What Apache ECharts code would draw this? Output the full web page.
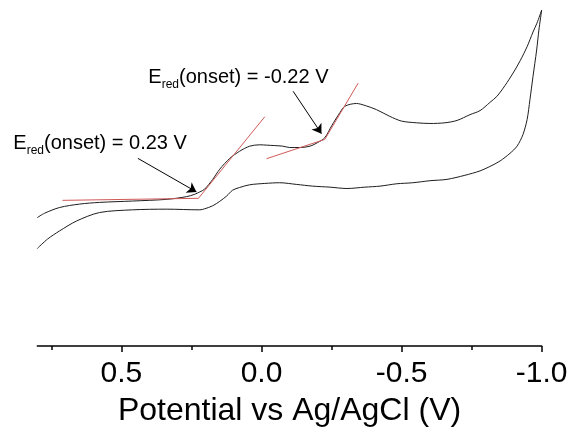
<!DOCTYPE html>
<html>
<head>
<meta charset="utf-8">
<script src="https://cdn.jsdelivr.net/npm/echarts@6/dist/echarts.min.js"></script>
<style>
  html, body { margin: 0; padding: 0; background: #fff; }
  #main { width: 571px; height: 432px; }
</style>
</head>
<body>
<div id="main"></div>
<script>
// forward scan, 0.8 V -> -1.0 V (current in arbitrary units)
var fwdV = [0.80, 0.774, 0.720, 0.649, 0.578, 0.460, 0.338, 0.267, 0.238, 0.220, 0.203, 0.174, 0.149, 0.113, 0.078,
  0.042, 0.006, -0.019, -0.076, -0.101, -0.137, -0.173, -0.201, -0.226, -0.251, -0.280, -0.298, -0.339, -0.370,
  -0.410, -0.458, -0.500, -0.553, -0.601, -0.655, -0.698, -0.744, -0.780, -0.815, -0.840, -0.869, -0.898, -0.923,
  -0.948, -0.969, -0.983, -1.0];
var fwdI = [37.9, 39.2, 40.9, 41.9, 42.4, 42.8, 43.3, 44.1, 44.8, 45.5, 46.3, 49.2, 52.2, 55.4, 57.5,
  59.0, 59.4, 59.3, 59.0, 58.6, 58.6, 59.0, 60.1, 61.5, 65.1, 68.9, 70.8, 71.6, 71.0,
  69.8, 67.8, 66.4, 65.9, 65.7, 65.9, 66.6, 68.3, 69.5, 71.9, 73.7, 76.9, 80.6, 84.2,
  88.4, 92.7, 95.3, 99.2];
// reverse scan, -1.0 V -> 0.8 V
var revV = [-1.0, -0.990, -0.982, -0.969, -0.958, -0.948, -0.933, -0.912, -0.887, -0.851, -0.815, -0.780, -0.726,
  -0.662, -0.601, -0.540, -0.483, -0.423, -0.369, -0.305, -0.244, -0.183, -0.126, -0.065, -0.012, 0.042, 0.078,
  0.103, 0.124, 0.149, 0.174, 0.203, 0.220, 0.338, 0.460, 0.578, 0.660, 0.720, 0.763, 0.80];
var revI = [99.2, 93.3, 87.4, 79.6, 72.7, 66.9, 62.4, 59.0, 56.9, 54.6, 53.0, 51.7, 50.4,
  49.2, 48.8, 48.2, 47.9, 47.2, 46.9, 46.5, 46.9, 47.2, 47.7, 48.2, 48.0, 47.6, 46.8,
  46.0, 44.3, 42.7, 41.4, 40.5, 40.2, 40.4, 40.2, 39.4, 36.9, 34.0, 31.6, 28.8];

var xTicks = [-1.0, -0.5, 0.0, 0.5];
var xMinorTicks = [-0.75, -0.25, 0.25, 0.75];

// onset construction lines: [[V1, I1], [V2, I2]]
var tangents = [
  [[0.71, 43.0], [0.225, 43.6]],
  [[0.225, 43.6], [-0.012, 67.7]],
  [[-0.018, 55.3], [-0.226, 61.0]],
  [[-0.226, 61.0], [-0.345, 77.6]]
];
// arrows: tail -> head
var arrows = [
  [[0.441, 55.4], [0.232, 45.5]],
  [[-0.113, 75.2], [-0.214, 62.7]]
];
var onsetLabels = ['0.23 V', '-0.22 V'];

var font = 'Liberation Sans, Arial, sans-serif';

function zip(a, b) {
  var out = [];
  for (var i = 0; i < a.length; i++) out.push([a[i], b[i]]);
  return out;
}

var curveStyle = { color: '#1e1e1e', width: 1 };
var series = [{
  name: 'forward',
  type: 'line',
  data: zip(fwdV, fwdI),
  showSymbol: false,
  smooth: 0.3,
  lineStyle: curveStyle,
  markLine: {
    silent: true,
    symbol: ['none', 'arrow'],
    symbolSize: 9,
    label: { show: false },
    lineStyle: { color: '#000', width: 1, type: 'solid' },
    data: arrows.map(function (a) {
      return [{ coord: a[0] }, { coord: a[1] }];
    })
  }
}, {
  name: 'reverse',
  type: 'line',
  data: zip(revV, revI),
  showSymbol: false,
  smooth: 0.3,
  lineStyle: curveStyle
}];
tangents.forEach(function (t) {
  series.push({
    type: 'line',
    data: t,
    showSymbol: false,
    lineStyle: { color: '#cf5a58', width: 1 }
  });
});

function onsetText(v) {
  return '{m|E}{s|red}{m|(onset) = ' + v + '}';
}
var rich = {
  m: { fontSize: 20, lineHeight: 20, fontFamily: font, color: '#000', verticalAlign: 'bottom' },
  // negative bottom padding pushes the subscript below the baseline
  s: { fontSize: 12, fontFamily: font, color: '#000', verticalAlign: 'bottom', padding: [0, 0, -4, 0] }
};

var chart = echarts.init(document.getElementById('main'));
chart.setOption({
  animation: false,
  backgroundColor: '#fff',
  grid: { left: 37.3, right: 29.3, top: 7.3, bottom: 84.7 },
  xAxis: [{
    type: 'value',
    inverse: true,
    min: -1.0,
    max: 0.8,
    interval: 0.5,
    name: 'Potential vs Ag/AgCl (V)',
    nameLocation: 'middle',
    nameGap: 49,
    nameTextStyle: { fontSize: 32, fontFamily: font, color: '#000' },
    splitLine: { show: false },
    axisLine: { lineStyle: { color: '#000', width: 1.5 } },
    axisTick: { customValues: xTicks, length: 6, lineStyle: { color: '#000', width: 1.5 } },
    axisLabel: {
      customValues: xTicks,
      margin: 13,
      fontSize: 30,
      fontFamily: font,
      color: '#000',
      formatter: function (v) { return v.toFixed(1); }
    }
  }, {
    type: 'value',
    inverse: true,
    min: -1.0,
    max: 0.8,
    position: 'bottom',
    splitLine: { show: false },
    axisLine: { show: false },
    axisLabel: { show: false },
    axisTick: { customValues: xMinorTicks, length: 4, lineStyle: { color: '#000', width: 1.5 } }
  }],
  yAxis: { type: 'value', min: 0, max: 100, show: false },
  series: series,
  graphic: [
    { type: 'text', x: 13.3, y: 133, style: { text: onsetText(onsetLabels[0]), rich: rich, verticalAlign: 'top' } },
    { type: 'text', x: 148.3, y: 67, style: { text: onsetText(onsetLabels[1]), rich: rich, verticalAlign: 'top' } }
  ]
});
</script>
</body>
</html>
